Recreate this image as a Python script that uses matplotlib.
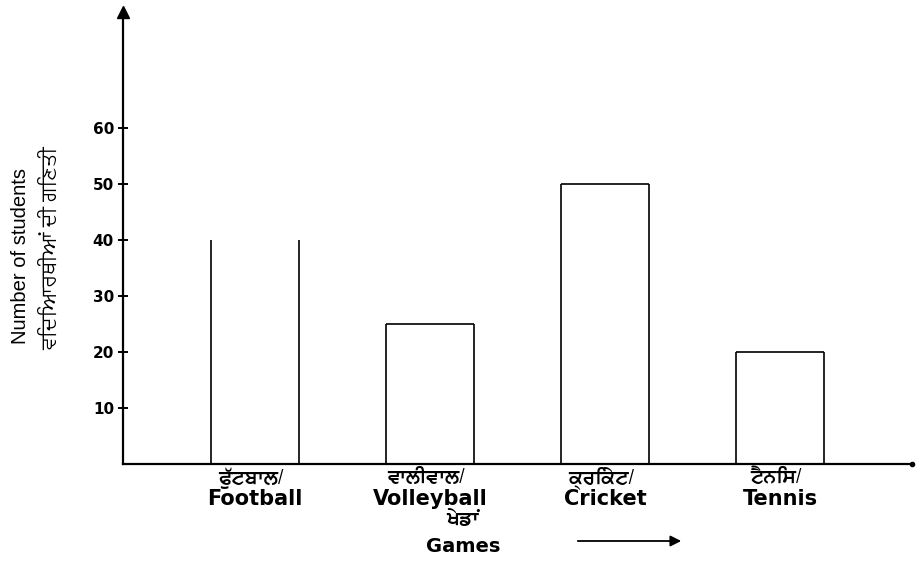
import matplotlib
matplotlib.use("Agg")
import matplotlib.pyplot as plt

# data
games_pa = ["ਫੁੱਟਬਾਲ/", "ਵਾਲੀਵਾਲ/", "ਕ੍ਰਿਕੇਟ/", "ਟੈਨਿਸ/"]
games_en = ["Football", "Volleyball", "Cricket", "Tennis"]
students = [40, 25, 50, 20]
has_top = [False, True, True, True]
yticks = [10, 20, 30, 40, 50, 60]

latin_font = ["DejaVu Sans", "FreeSans"]
gur_font = ["FreeSans", "Mukta Mahee", "DejaVu Sans"]

fig = plt.figure(figsize=(9.16, 5.83), dpi=100)
ax = fig.add_axes([123 / 916, 119 / 583, 789 / 916, 452 / 583])

bar_w = 0.5
x = list(range(len(students)))
for xi, v, top in zip(x, students, has_top):
    ax.vlines([xi - bar_w / 2, xi + bar_w / 2], 0, v, color="black", lw=1.2)
    if top:
        ax.hlines(v, xi - bar_w / 2, xi + bar_w / 2, color="black", lw=1.2)

ax.set_xlim(-0.754, 3.754)
ax.set_ylim(0, 80.7)

for s in ["top", "right"]:
    ax.spines[s].set_visible(False)
ax.spines["left"].set_linewidth(1.6)
ax.spines["bottom"].set_linewidth(1.6)

# arrow heads on the axes
ax.plot(0, 1, marker="^", color="black", markersize=8, transform=ax.transAxes, clip_on=False)
ax.plot(1, 0, marker="o", color="black", markersize=3, transform=ax.transAxes, clip_on=False)

ax.set_yticks(yticks)
ax.set_yticklabels([str(t) for t in yticks], fontsize=11, fontweight="bold", family=latin_font)
ax.tick_params(axis="y", direction="inout", length=7, width=1.4, pad=3)
ax.set_xticks([])

# category labels
for xi, pa, en in zip(x, games_pa, games_en):
    ax.annotate(pa, xy=(xi, 0), xycoords=("data", "axes fraction"), xytext=(-3, -10),
                textcoords="offset points", ha="center", va="center",
                fontsize=14, fontweight="bold", family=gur_font)
    ax.annotate(en, xy=(xi, 0), xycoords=("data", "axes fraction"), xytext=(0, -25.5),
                textcoords="offset points", ha="center", va="center",
                fontsize=15, fontweight="bold", family=latin_font)

# y axis title (two lines)
fig.text(21 / 916, 1 - 256 / 583, "Number of students", rotation=90, ha="center", va="center",
         fontsize=14.5, family=["Liberation Sans", "DejaVu Sans"])
fig.text(51 / 916, 1 - 248 / 583, "ਵਿਦਿਆਰਥੀਆਂ ਦੀ ਗਿਣਤੀ", rotation=90, ha="center", va="center",
         fontsize=15, family=gur_font)

# x axis title with arrow
fig.text(462 / 916, 1 - 519 / 583, "ਖੇਡਾਂ", ha="center", va="center",
         fontsize=14, fontweight="bold", family=gur_font)
fig.text(463 / 916, 1 - 546 / 583, "Games", ha="center", va="center",
         fontsize=14, fontweight="bold", family=latin_font)
fig.add_artist(matplotlib.patches.FancyArrowPatch(
    (575 / 916, 1 - 541 / 583), (684 / 916, 1 - 541 / 583), transform=fig.transFigure,
    arrowstyle="-|>", mutation_scale=16, lw=1.3, color="black"))

fig.savefig("out.png", dpi=100)
